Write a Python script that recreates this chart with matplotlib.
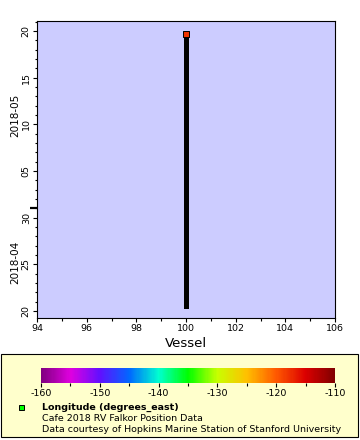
import numpy as np
import pandas as pd
import matplotlib
matplotlib.use('Agg')
import matplotlib.pyplot as plt
import matplotlib.dates as mdates
from matplotlib.colors import LinearSegmentedColormap, Normalize
from matplotlib.patches import Rectangle
from matplotlib.colorbar import ColorbarBase

# track of the vessel (time, vessel id) and the last longitude value
track_time = pd.to_datetime(['2018-04-20 13:30', '2018-05-19 16:00'])
track_vessel = [100, 100]
last_lon = -118.0

lon_min, lon_max = -160, -110
x_range = (94, 106)
y_range = ('2018-04-19 06:00', '2018-05-21 02:00')
month_lines = ['2018-05-01']
legend_lines = ['Longitude (degrees_east)',
                'Cafe 2018 RV Falkor Position Data',
                'Data courtesy of Hopkins Marine Station of Stanford University']

# rainbow palette like the ERDDAP one
stops = ['#800080', '#e000e0', '#6010ff', '#0068ff', '#00ffd0', '#00ff00',
         '#c8ff00', '#ffc000', '#ff5a00', '#dc0000', '#800000']
cmap = LinearSegmentedColormap.from_list('rainbow_erddap', stops)
norm = Normalize(lon_min, lon_max)

fs = 6.8
plt.rcParams['font.family'] = 'DejaVu Sans'
fig = plt.figure(figsize=(3.6, 4.4), dpi=100)

# legend panel
fig.patches.append(Rectangle((1/360, 1 - 437/440), 357/360, 83/440,
                             transform=fig.transFigure, facecolor='#ffffcc',
                             edgecolor='black', linewidth=0.8, zorder=-5))

ax = fig.add_axes([37/360, 1 - 318/440, 298/360, 297/440])
ax.set_facecolor('#ccccff')
ax.plot(track_vessel, track_time, color='black', linewidth=3.6,
        solid_capstyle='projecting', zorder=2)
ax.scatter([track_vessel[-1]], [track_time[-1]], c=[last_lon], cmap=cmap, norm=norm,
           marker='s', s=13, edgecolors='black', linewidths=0.7, zorder=3)

ax.set_xlim(*x_range)
ax.set_ylim(pd.Timestamp(y_range[0]), pd.Timestamp(y_range[1]))
ax.xaxis.set_major_locator(plt.MultipleLocator(2))
ax.xaxis.set_minor_locator(plt.MultipleLocator(1))
ax.yaxis.set_major_locator(mdates.DayLocator(bymonthday=[5, 10, 15, 20, 25, 30]))
ax.yaxis.set_major_formatter(mdates.DateFormatter('%d'))
ax.yaxis.set_minor_locator(mdates.DayLocator())
ax.tick_params(axis='both', which='major', length=3, width=0.8, labelsize=fs, pad=1.5)
ax.tick_params(axis='both', which='minor', length=1.8, width=0.8)
for lab in ax.get_yticklabels():
    lab.set_rotation(90)
    lab.set_va('center')
for sp in ax.spines.values():
    sp.set_linewidth(0.8)
ax.set_xlabel('Vessel', fontsize=9.6, labelpad=3)

# month boundary tick and month labels
for m in month_lines:
    ax.plot([-0.024, 0], [pd.Timestamp(m)] * 2, color='black', linewidth=1.6,
            transform=ax.get_yaxis_transform(), clip_on=False, solid_capstyle='butt')
ax.text(15/360, 1 - 115/440, '2018-05', transform=fig.transFigure, rotation=90,
        ha='center', va='center', fontsize=7.5)
ax.text(15/360, 1 - 262/440, '2018-04', transform=fig.transFigure, rotation=90,
        ha='center', va='center', fontsize=7.5)

# colour bar
cax = fig.add_axes([41/360, 1 - 383/440, 294/360, 15/440])
cb = ColorbarBase(cax, cmap=cmap, norm=norm, orientation='horizontal')
cb.outline.set_visible(False)
cb.set_ticks(np.arange(lon_min, lon_max + 1, 10))
cb.ax.xaxis.set_minor_locator(plt.MultipleLocator(5))
cax.tick_params(which='major', length=3, width=0.8, labelsize=fs, pad=1.5)
cax.tick_params(which='minor', length=2, width=0.8)
cax.set_xticklabels([str(v) for v in range(lon_min, lon_max + 1, 10)])

# legend entry
fig.patches.append(Rectangle((19/360, 1 - 410/440), 5/360, 5/440,
                             transform=fig.transFigure, facecolor='#00ff00',
                             edgecolor='black', linewidth=0.7, zorder=5))
fig.text(42/360, 1 - 407/440, legend_lines[0], fontsize=fs, fontweight='bold', va='center')
fig.text(42/360, 1 - 418/440, legend_lines[1], fontsize=fs, va='center')
fig.text(42/360, 1 - 429/440, legend_lines[2], fontsize=fs, va='center')

fig.savefig('out.png', dpi=100)
